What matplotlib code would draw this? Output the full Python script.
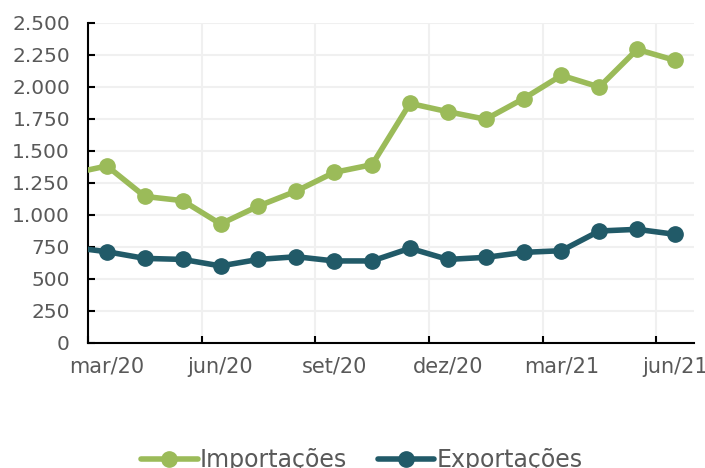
import matplotlib
matplotlib.use('Agg')
import matplotlib.pyplot as plt
from matplotlib.ticker import FuncFormatter, FixedLocator
import numpy as np

# months: index 0 = mar/20 ... 15 = jun/21, -1 = fev/20 (outside the view, clipped)
months = ['fev/20', 'mar/20', 'abr/20', 'mai/20', 'jun/20', 'jul/20', 'ago/20', 'set/20',
          'out/20', 'nov/20', 'dez/20', 'jan/21', 'fev/21', 'mar/21', 'abr/21', 'mai/21', 'jun/21']
importacoes = [1320, 1383, 1145, 1112, 930, 1070, 1187, 1333, 1393, 1872, 1807,
               1748, 1909, 2091, 2000, 2294, 2208]
exportacoes = [750, 713, 661, 653, 602, 653, 674, 641, 641, 740, 653,
               669, 708, 721, 875, 888, 849]
label_months = ['mar/20', 'jun/20', 'set/20', 'dez/20', 'mar/21', 'jun/21']

green = '#9BBB59'
teal = '#215A68'
gray = '#595959'

plt.rcParams['font.family'] = ['DejaVu Sans']

x = np.arange(len(months)) - 1

fig = plt.figure(figsize=(7.05, 4.68), dpi=100)
ax = fig.add_axes([88/705, 1 - 343/468, (694-88)/705, (343-23)/468])

ax.plot(x, importacoes, color=green, lw=4, marker='o', ms=11, label='Importações',
        solid_capstyle='round', zorder=3)
ax.plot(x, exportacoes, color=teal, lw=4, marker='o', ms=11, label='Exportações',
        solid_capstyle='round', zorder=3)

ax.set_xlim(-0.5, len(months) - 1.5)
ax.set_ylim(0, 2500)
ax.set_yticks(np.arange(0, 2501, 250))
ax.yaxis.set_major_formatter(FuncFormatter(lambda v, p: f'{int(v):,}'.replace(',', '.')))

label_pos = [months.index(m) - 1 for m in label_months]
ax.xaxis.set_major_locator(FixedLocator([p - 0.5 for p in label_pos]))
ax.xaxis.set_minor_locator(FixedLocator(label_pos))
ax.set_xticklabels([])
ax.set_xticklabels(label_months, minor=True)

ax.tick_params(axis='both', which='major', direction='in', length=5, width=1.5,
               colors='black', labelcolor=gray, labelsize=14.5)
ax.tick_params(axis='y', pad=13)
ax.tick_params(axis='x', which='minor', length=0, labelcolor=gray, labelsize=15, pad=10)

ax.grid(True, which='major', color='#F0F0F0', lw=1.5, zorder=0)
for s in ['top', 'right']:
    ax.spines[s].set_visible(False)
for s in ['left', 'bottom']:
    ax.spines[s].set_linewidth(1.5)
    ax.spines[s].set_color('black')

ax.legend(loc='center', bbox_to_anchor=(0.452, -0.365), ncol=2, frameon=False,
          fontsize=17, labelcolor=gray, handlelength=2.4, handletextpad=0.1,
          columnspacing=1.3)

fig.savefig('out.png', dpi=100)
